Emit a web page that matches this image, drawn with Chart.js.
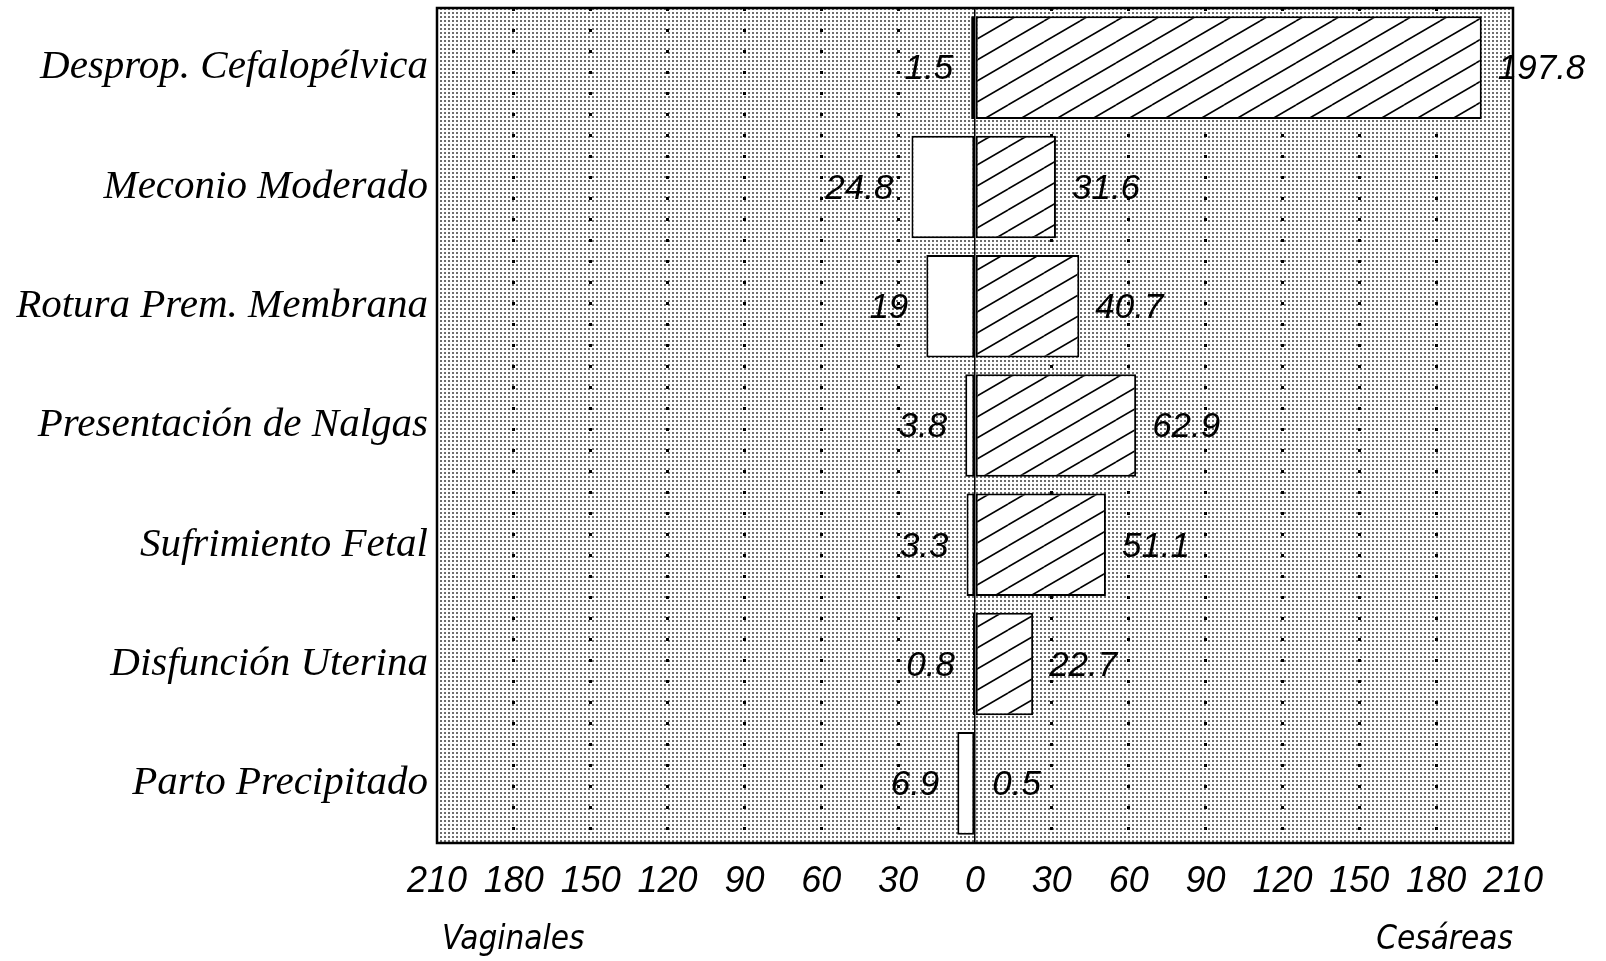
<!DOCTYPE html>
<html>
<head>
<meta charset="utf-8">
<script src="https://cdn.jsdelivr.net/npm/chart.js@4.4.1/dist/chart.umd.min.js"></script>
<style>
  html, body { margin: 0; padding: 0; background: #fff; }
  #wrap { width: 1606px; height: 961px; position: relative; }
</style>
</head>
<body>
<div id="wrap"><canvas id="grafico"></canvas></div>
<script>
// datos
const categorias = [
    'Desprop. Cefalopélvica',
    'Meconio Moderado',
    'Rotura Prem. Membrana',
    'Presentación de Nalgas',
    'Sufrimiento Fetal',
    'Disfunción Uterina',
    'Parto Precipitado'
];
const vaginales = [1.5, 24.8, 19, 3.8, 3.3, 0.8, 6.9];
const cesareas = [197.8, 31.6, 40.7, 62.9, 51.1, 22.7, 0.5];
const limiteX = 210;
const pasoX = 30;
const tituloIzq = 'Vaginales';
const tituloDer = 'Cesáreas';

const serif = "'Liberation Serif', 'Times New Roman', serif";
const sans = "'Liberation Sans', Arial, sans-serif";
const narrow = "'Liberation Sans Narrow', 'DejaVu Sans Condensed', 'Liberation Sans', sans-serif";

function hatchPattern() {
    const w = 36, h = 21;
    const c = document.createElement('canvas');
    c.width = w; c.height = h;
    const g = c.getContext('2d');
    g.fillStyle = '#fff';
    g.fillRect(0, 0, w, h);
    g.strokeStyle = '#000';
    g.lineWidth = 1.6;
    [-1, 0, 1].forEach(k => {
        g.beginPath();
        g.moveTo(0, h + k * h);
        g.lineTo(w, k * h);
        g.stroke();
    });
    return g.createPattern(c, 'repeat');
}

function stipplePattern() {
    const c = document.createElement('canvas');
    c.width = 4; c.height = 4;
    const g = c.getContext('2d');
    g.fillStyle = '#fff';
    g.fillRect(0, 0, 4, 4);
    g.fillStyle = '#6e6e6e';
    g.fillRect(0, 0, 2, 2);
    return g.createPattern(c, 'repeat');
}

const fondo = {
    id: 'fondo',
    beforeDraw(chart) {
        const { ctx, chartArea: a } = chart;
        ctx.save();
        ctx.fillStyle = stipplePattern();
        ctx.fillRect(a.left, a.top, a.right - a.left, a.bottom - a.top);
        ctx.restore();
    },
    afterDraw(chart) {
        const { ctx, chartArea: a } = chart;
        ctx.save();
        ctx.strokeStyle = '#000';
        ctx.lineWidth = 2.5;
        ctx.strokeRect(a.left, a.top, a.right - a.left, a.bottom - a.top);
        // titulos bajo el eje
        ctx.fillStyle = '#000';
        ctx.font = "italic 33px " + narrow;
        ctx.textBaseline = 'middle';
        ctx.textAlign = 'left';
        ctx.fillText(tituloIzq, a.left + 5, 940);
        ctx.textAlign = 'right';
        ctx.fillText(tituloDer, a.right, 940);
        ctx.restore();
    }
};

const etiquetas = {
    id: 'etiquetas',
    afterDatasetsDraw(chart) {
        const ctx = chart.ctx;
        ctx.save();
        ctx.fillStyle = '#000';
        ctx.font = "italic 35px " + sans;
        ctx.textBaseline = 'middle';
        chart.getDatasetMeta(0).data.forEach((bar, i) => {
            ctx.textAlign = 'right';
            ctx.fillText(String(vaginales[i]), Math.min(bar.x, bar.base) - 18, bar.y + 2);
        });
        chart.getDatasetMeta(1).data.forEach((bar, i) => {
            ctx.textAlign = 'left';
            ctx.fillText(String(cesareas[i]), Math.max(bar.x, bar.base) + 16, bar.y + 2);
        });
        ctx.restore();
    }
};

new Chart(document.getElementById('grafico'), {
    type: 'bar',
    data: {
        labels: categorias,
        datasets: [
            {
                label: tituloIzq,
                data: vaginales.map(v => -v),
                backgroundColor: '#fff',
                borderColor: '#000',
                borderWidth: 2,
                borderSkipped: false
            },
            {
                label: tituloDer,
                data: cesareas,
                backgroundColor: hatchPattern(),
                borderColor: '#000',
                borderWidth: 2,
                borderSkipped: false
            }
        ]
    },
    options: {
        indexAxis: 'y',
        responsive: true,
        maintainAspectRatio: false,
        animation: false,
        layout: { padding: { top: 8, right: 93, bottom: 0, left: 0 } },
        datasets: { bar: { categoryPercentage: 1, barPercentage: 0.86 } },
        plugins: {
            legend: { display: false },
            tooltip: { enabled: false }
        },
        scales: {
            x: {
                stacked: true,
                min: -limiteX,
                max: limiteX,
                afterFit: s => { s.height = 118; s.paddingLeft = 0; s.paddingRight = 0; },
                ticks: {
                    stepSize: pasoX,
                    padding: 17,
                    color: '#000',
                    font: { family: sans, size: 36, style: 'italic' },
                    callback: v => Math.abs(v)
                },
                grid: {
                    drawTicks: false,
                    color: c => (Math.abs(c.tick.value) === limiteX ? 'rgba(0,0,0,0)' : '#000'),
                    lineWidth: c => (c.tick.value === 0 ? 1.5 : 3)
                },
                border: {
                    display: false,
                    dash: c => (c.tick && c.tick.value === 0 ? [] : [3, 18])
                }
            },
            y: {
                stacked: true,
                afterFit: s => { s.width = 437; s.paddingTop = 0; s.paddingBottom = 0; },
                ticks: {
                    padding: 9,
                    color: '#000',
                    font: { family: serif, size: 41, style: 'italic' }
                },
                grid: { display: false, drawTicks: false },
                border: { display: false }
            }
        }
    },
    plugins: [fondo, etiquetas]
});
</script>
</body>
</html>
